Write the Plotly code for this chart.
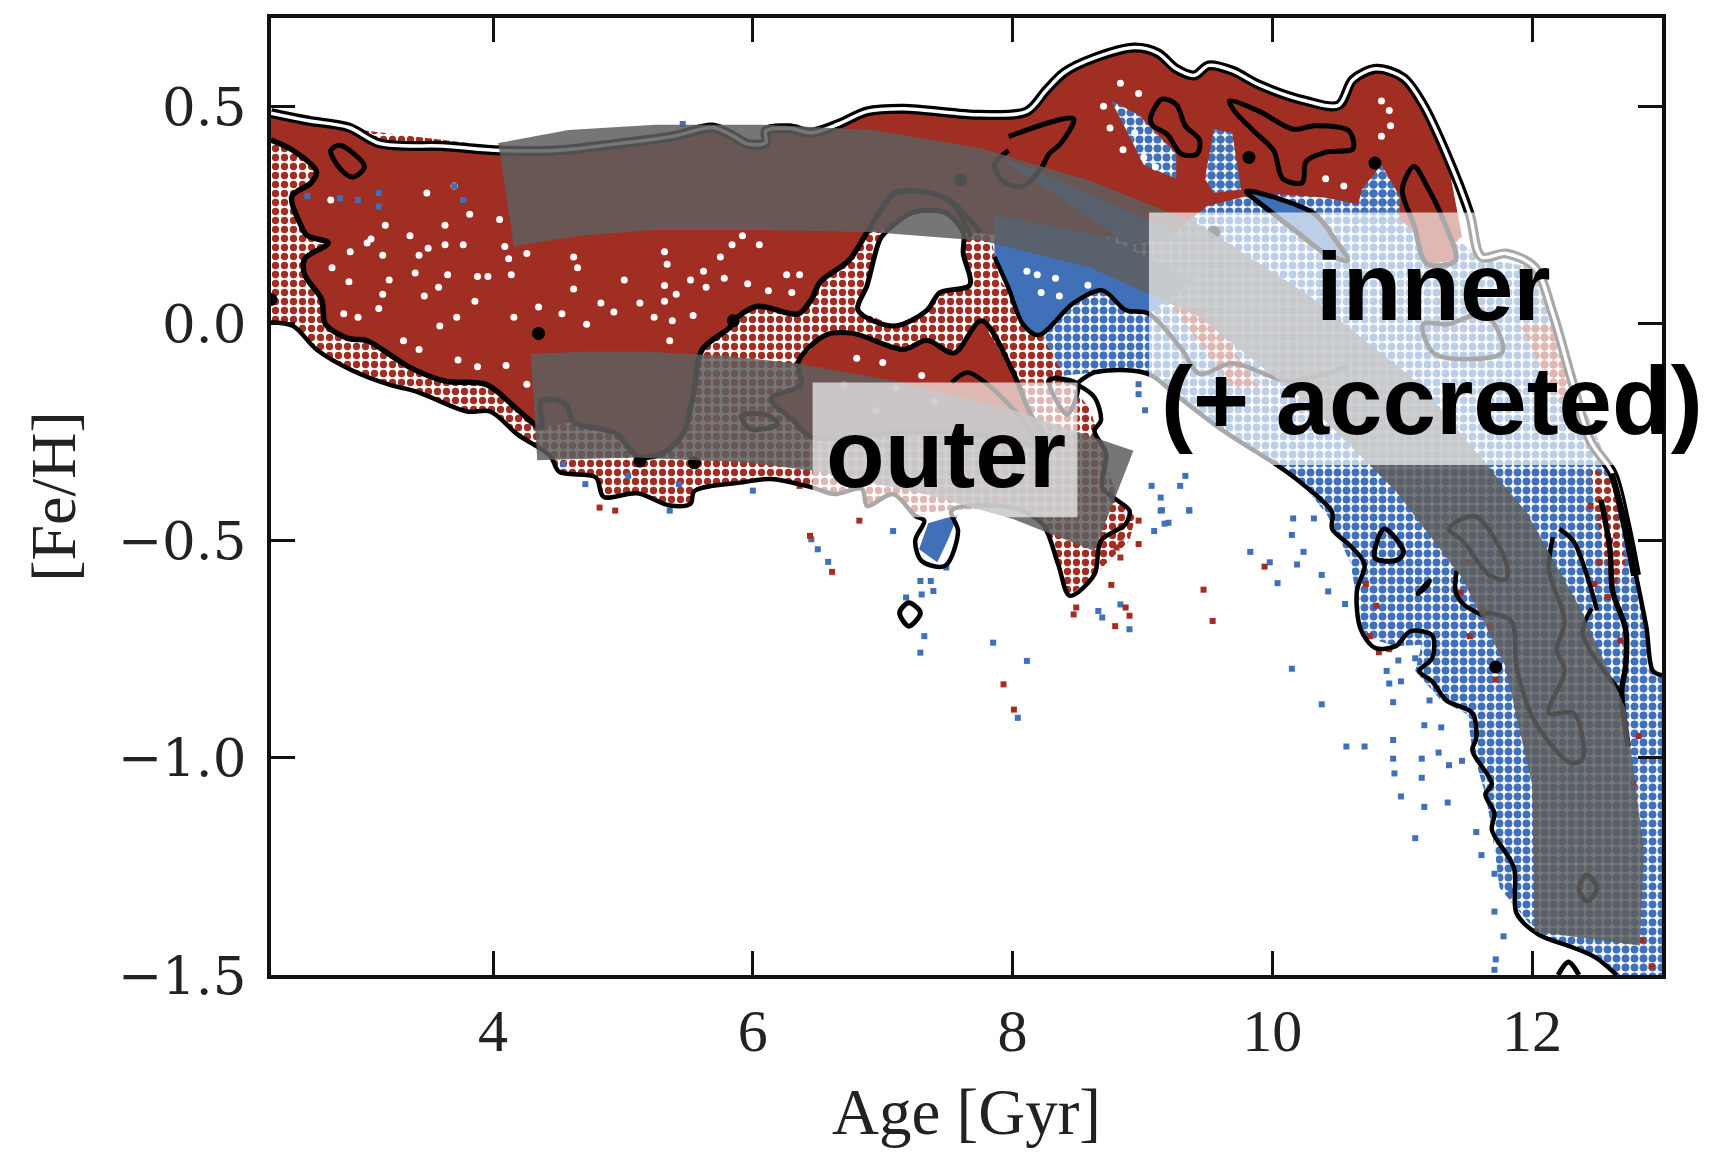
import plotly.graph_objects as go

# ---------- axes ----------
X_TICKS = [4, 6, 8, 10, 12]
Y_TICKS = [0.5, 0.0, -0.5, -1.0, -1.5]
X_RANGE = [2.29, 13.0]
Y_RANGE = [-1.5, 0.703]

# ---------- outer envelope contours ----------
TOP_AGE = [2.29, 2.57, 2.89, 3.13, 3.63, 4.05, 4.48, 4.86, 5.39, 5.69, 5.85, 5.96, 6.10, 6.10, 6.28, 6.45, 6.66, 6.88, 7.16, 7.75,
           8.11, 8.26, 8.40, 8.62, 8.94, 9.12, 9.26, 9.40, 9.51, 9.69, 9.90, 10.26, 10.51, 10.62, 10.80, 11.01, 11.16, 11.34,
           11.52, 11.61, 11.80, 12.02, 12.16, 12.30, 12.45, 12.62]
TOP_FEH = [0.484, 0.467, 0.451, 0.414, 0.408, 0.398, 0.398, 0.410, 0.431, 0.451, 0.431, 0.413, 0.416, 0.443, 0.449, 0.439, 0.459, 0.488, 0.494, 0.480,
           0.488, 0.537, 0.578, 0.610, 0.635, 0.622, 0.586, 0.571, 0.594, 0.582, 0.549, 0.512, 0.502, 0.561, 0.586, 0.565, 0.504, 0.390,
           0.251, 0.153, 0.161, 0.129, 0.022, -0.124, -0.271, -0.345]
RIGHT_AGE = [12.62, 12.72, 12.80, 12.88, 12.93, 13.0]
RIGHT_FEH = [-0.345, -0.46, -0.58, -0.70, -0.80, -0.81]

LOW_L_AGE = [2.29, 2.46, 2.64, 2.92, 3.20, 3.42, 3.80, 3.98, 4.19, 4.44, 4.51, 4.79, 4.85, 5.11, 5.36, 5.52, 5.55, 5.92, 6.14,
             6.46, 6.63, 6.84, 6.88, 7.08, 7.25, 7.32, 7.25, 7.30, 7.48, 7.58, 7.53, 8.00, 8.23, 8.35, 8.44, 8.63, 8.68, 8.87, 8.90, 8.81, 8.69, 8.72, 8.63, 8.68, 8.63, 8.49, 8.32]
LOW_L_FEH = [0.002, -0.006, -0.06, -0.109, -0.141, -0.158, -0.203, -0.203, -0.256, -0.305, -0.342, -0.354, -0.399, -0.391, -0.419, -0.415, -0.386, -0.366, -0.358,
             -0.378, -0.393, -0.381, -0.42, -0.393, -0.443, -0.454, -0.50, -0.547, -0.558, -0.478, -0.431, -0.424, -0.462, -0.554, -0.627, -0.578, -0.50, -0.462, -0.431, -0.408, -0.378, -0.30, -0.247, -0.224, -0.17, -0.14, -0.124]
LOW_R_AGE = [8.49, 8.63, 8.93, 9.07, 9.26, 9.62, 10.05, 10.23, 10.46, 10.46, 10.60, 10.71, 10.65, 10.68, 10.79, 10.95, 11.06, 11.23, 11.23, 11.13, 11.23, 11.34,
             11.54, 11.57, 11.54, 11.69, 11.64, 11.71, 11.69, 11.86, 11.88, 12.05, 12.30, 12.49, 12.65]
LOW_R_FEH = [-0.14, -0.113, -0.109, -0.12, -0.165, -0.247, -0.329, -0.369, -0.435, -0.473, -0.512, -0.555, -0.617, -0.704, -0.747, -0.743, -0.709, -0.718, -0.771, -0.80, -0.824, -0.868,
             -0.897, -0.954, -0.983, -1.06, -1.084, -1.128, -1.166, -1.253, -1.358, -1.407, -1.435, -1.46, -1.5]

# ---------- stipple regions ----------
RED_STIP_AGE = [2.29, 2.46, 2.64, 2.92, 3.20, 3.42, 3.80, 3.98, 4.19, 4.44, 4.51, 4.79, 4.85, 5.11, 5.36, 5.52, 5.55, 5.92, 6.14, 6.46, 6.63, 6.84, 6.88, 7.08, 7.25, 7.50, 8.00, 8.23, 8.35, 8.44, 8.63, 8.68, 8.87, 8.90, 8.81, 8.70, 8.60, 8.40, 8.20, 7.90, 7.80, 7.00, 2.29]
RED_STIP_FEH = [0.002, -0.006, -0.06, -0.109, -0.141, -0.158, -0.203, -0.203, -0.256, -0.305, -0.342, -0.354, -0.399, -0.391, -0.419, -0.415, -0.386, -0.366, -0.358, -0.378, -0.393, -0.381, -0.42, -0.393, -0.443, -0.43, -0.424, -0.462, -0.554, -0.627, -0.578, -0.50, -0.462, -0.431, -0.408, -0.30, -0.20, -0.12, -0.01, 0.10, 0.25, 0.30, 0.47]
BLUE_STIP_AGE = [7.90, 9.50, 10.40, 11.00, 11.60, 12.02, 12.30, 12.62, 12.80, 12.93, 13.0, 13.0, 12.65, 12.49, 12.30, 12.05, 11.75, 11.69, 11.64, 11.54, 11.50, 11.30, 11.10, 11.15, 10.95, 10.70, 10.60, 10.42, 10.23, 9.62, 9.26, 9.07, 8.93, 8.63, 8.40, 8.20]
BLUE_STIP_FEH = [0.20, 0.30, 0.32, 0.30, 0.15, 0.129, -0.124, -0.345, -0.58, -0.80, -0.81, -1.5, -1.5, -1.46, -1.435, -1.407, -1.30, -1.166, -1.084, -0.983, -0.90, -0.868, -0.80, -0.74, -0.743, -0.72, -0.55, -0.44, -0.369, -0.247, -0.165, -0.12, -0.109, -0.113, -0.12, -0.01]
PENINSULA_AGE = [7.28, 7.35, 7.58, 7.50, 7.42]
PENINSULA_FEH = [-0.52, -0.46, -0.44, -0.50, -0.55]
RED_PEN_AGE = [8.25, 8.70, 8.95, 8.90, 8.63, 8.44, 8.35]
RED_PEN_FEH = [-0.45, -0.42, -0.44, -0.50, -0.58, -0.627, -0.554]
RED_STREAK_AGE = [12.45, 12.62, 12.72, 12.62, 12.50]
RED_STREAK_FEH = [-0.33, -0.36, -0.55, -0.62, -0.45]

# ---------- solid areas ----------
RED_MAIN_AGE = [2.29, 2.29] + TOP_AGE[1:38] + [11.46, 11.30, 10.90, 10.40, 9.90, 9.50, 9.20, 8.70, 8.00, 7.62, 7.05, 6.88, 6.74, 6.52, 6.45, 6.35, 6.03, 5.85, 5.82, 5.61, 5.54, 5.46, 5.29, 5.11, 4.94, 4.62, 4.37, 4.19, 3.95, 3.63, 3.35, 3.03, 2.89, 2.71, 2.68, 2.55, 2.55, 2.73, 2.57, 2.52, 2.45, 2.60, 2.64, 2.46]
RED_MAIN_FEH = [0.422, 0.484] + TOP_FEH[1:38] + [0.20, 0.16, 0.26, 0.29, 0.30, 0.27, 0.20, 0.20, 0.20, 0.21, 0.22, 0.21, 0.145, 0.096, 0.055, 0.022, 0.039, 0.006, -0.01, -0.06, -0.166, -0.256, -0.301, -0.305, -0.252, -0.227, -0.24, -0.199, -0.141, -0.133, -0.10, -0.04, -0.035, -0.002, 0.055, 0.112, 0.149, 0.185, 0.202, 0.226, 0.292, 0.324, 0.349, 0.398]
ISLAND_AGE = [6.35, 6.56, 6.77, 7.16, 7.34, 7.55, 7.76, 8.00, 8.14, 8.30, 8.00, 7.49, 7.15, 6.45, 6.31, 6.14, 6.37, 6.35]
ISLAND_FEH = [-0.088, -0.027, -0.023, -0.06, -0.039, -0.068, 0.006, -0.11, -0.21, -0.29, -0.27, -0.25, -0.25, -0.262, -0.223, -0.174, -0.141, -0.088]
BLUE_MAIN_AGE = [7.86, 8.70, 9.40, 9.05, 8.87, 8.69, 8.47, 8.20, 8.08, 7.97, 7.86]
BLUE_MAIN_FEH = [0.25, 0.20, 0.10, 0.022, 0.031, 0.076, 0.047, -0.027, -0.002, 0.08, 0.153]
BLUE_BLADE_AGE = [9.80, 10.08, 10.33, 10.48, 10.58, 10.41, 10.19, 9.98, 9.80]
BLUE_BLADE_FEH = [0.304, 0.284, 0.251, 0.194, 0.145, 0.161, 0.21, 0.259, 0.304]
STREAK_A_AGE = [8.76, 8.97, 9.26, 9.26, 9.01, 8.90]
STREAK_A_FEH = [0.512, 0.48, 0.39, 0.333, 0.365, 0.43]
STREAK_B_AGE = [9.55, 9.69, 9.76, 9.55, 9.48]
STREAK_B_FEH = [0.447, 0.439, 0.308, 0.30, 0.333]
STREAK_C_AGE = [10.69, 10.84, 10.98, 10.98, 10.62]
STREAK_C_FEH = [0.308, 0.365, 0.292, 0.194, 0.227]
STREAK_D_AGE = [7.90, 8.30, 8.90, 9.30, 8.80, 8.20]
STREAK_D_FEH = [0.38, 0.30, 0.18, 0.20, 0.27, 0.35]
PINK_A_AGE = [11.90, 12.20, 12.35, 12.20]
PINK_A_FEH = [0.0, 0.0, -0.18, -0.18]
PINK_B_AGE = [9.20, 9.50, 9.90, 9.70]
PINK_B_FEH = [0.05, 0.03, -0.15, -0.15]
SLIVER_AGE = [11.0, 11.09, 11.19, 11.32, 11.41, 11.19, 11.09, 11.0]
SLIVER_FEH = [0.308, 0.361, 0.316, 0.235, 0.145, 0.137, 0.227, 0.308]
HOLE_AGE = [7.05, 7.23, 7.48, 7.62, 7.62, 7.67, 7.44, 7.34, 7.09, 6.81, 6.88, 6.98, 7.05]
HOLE_FEH = [0.218, 0.255, 0.255, 0.21, 0.161, 0.088, 0.071, 0.03, -0.006, 0.03, 0.088, 0.194, 0.218]

# ---------- inner contours ----------
INNER_L_AGE = [2.29, 2.46, 2.64, 2.60, 2.45, 2.52, 2.57, 2.73, 2.55, 2.55, 2.68, 2.71, 2.89, 3.03, 3.35, 3.63, 3.95, 4.19, 4.37, 4.37, 4.56, 4.62, 4.94, 5.11, 5.29, 5.46, 5.54, 5.61, 5.82, 5.85, 6.03, 6.35, 6.45, 6.52, 6.74, 6.88, 6.98, 7.09, 7.27, 7.51, 7.75]
INNER_L_FEH = [0.422, 0.398, 0.349, 0.324, 0.292, 0.226, 0.202, 0.185, 0.149, 0.112, 0.055, -0.002, -0.035, -0.04, -0.10, -0.133, -0.141, -0.199, -0.24, -0.178, -0.186, -0.227, -0.252, -0.305, -0.301, -0.256, -0.166, -0.06, -0.01, 0.006, 0.039, 0.022, 0.055, 0.096, 0.145, 0.21, 0.259, 0.30, 0.304, 0.284, 0.21]
INNER_R_AGE = [7.86, 7.97, 8.08, 8.20, 8.47, 8.69, 8.87, 9.05, 9.30, 9.44, 9.69, 10.12, 10.41, 10.58]
INNER_R_FEH = [0.153, 0.08, -0.002, -0.027, 0.047, 0.076, 0.031, 0.022, -0.059, -0.116, -0.092, -0.133, -0.116, -0.10]
INNER_E_AGE = [12.53, 12.60, 12.62, 12.72, 12.72, 12.69, 12.74]
INNER_E_FEH = [-0.406, -0.521, -0.617, -0.704, -0.79, -0.844, -0.974]
ARC_AGE = [11.42, 11.41, 11.47, 11.64]
ARC_FEH = [-0.569, -0.617, -0.646, -0.675]
ARC2_AGE = [12.21, 12.32, 12.41, 12.50]
ARC2_FEH = [-0.473, -0.502, -0.569, -0.66]
WIND_A_AGE = [12.16, 12.13, 12.25, 12.19, 12.25, 12.13, 12.32, 12.39, 12.30, 12.02, 11.88, 11.84, 11.64]
WIND_A_FEH = [-0.492, -0.569, -0.685, -0.752, -0.80, -0.897, -0.897, -1.002, -1.012, -0.916, -0.791, -0.685, -0.666]
WIND_B_AGE = [11.36, 11.56, 11.80, 11.80, 11.67, 11.47, 11.36]
WIND_B_FEH = [-0.473, -0.444, -0.55, -0.589, -0.579, -0.502, -0.473]
WIND_C_AGE = [12.46, 12.39, 12.68]
WIND_C_FEH = [-0.656, -0.714, -0.848]
WIND_D_AGE = [11.16, 11.25, 11.77, 11.64, 11.35, 11.16]
WIND_D_FEH = [-0.002, -0.07, -0.067, 0.022, -0.002, -0.002]
LOOP_ISLAND_AGE = [7.53, 7.65, 7.79, 8.08, 8.18]
LOOP_ISLAND_FEH = [-0.136, -0.113, -0.136, -0.224, -0.278]
LOOP_B_AGE = [8.28, 8.50, 8.42, 8.28]
LOOP_B_FEH = [-0.13, -0.14, -0.21, -0.13]
ARCH_AGE = [6.88, 6.98, 7.09, 7.27, 7.51, 7.68]
ARCH_FEH = [0.21, 0.26, 0.30, 0.304, 0.284, 0.20]
RINGS = {
    "oval": ([2.75, 2.82, 3.01, 2.92, 2.82, 2.75], [0.398, 0.41, 0.361, 0.337, 0.357, 0.398]),
    "blob1": ([9.06, 9.15, 9.26, 9.33, 9.44, 9.42, 9.30, 9.19, 9.08, 9.06], [0.471, 0.516, 0.504, 0.455, 0.422, 0.39, 0.39, 0.435, 0.455, 0.471]),
    "blob2": ([9.67, 9.90, 10.16, 10.33, 10.59, 10.62, 10.41, 10.26, 10.23, 10.08, 10.01, 9.87, 9.71, 9.67], [0.512, 0.488, 0.447, 0.455, 0.443, 0.402, 0.394, 0.373, 0.324, 0.333, 0.398, 0.439, 0.488, 0.512]),
    "wing": ([7.97, 8.47, 8.37, 8.28, 8.22, 8.08, 7.94, 7.86, 7.97], [0.43, 0.471, 0.414, 0.39, 0.357, 0.316, 0.324, 0.365, 0.398]),
    "sliver": (SLIVER_AGE, SLIVER_FEH),
    "blade": (BLUE_BLADE_AGE, BLUE_BLADE_FEH),
    "ring_low": ([7.13, 7.20, 7.29, 7.20, 7.13], [-0.666, -0.643, -0.666, -0.697, -0.666]),
    "triangle": ([10.86, 11.01, 10.96, 10.79, 10.86], [-0.473, -0.526, -0.545, -0.54, -0.473]),
    "tiny": ([11.12, 11.21, 11.18, 11.12], [-0.622, -0.593, -0.607, -0.622]),
    "band_loop": ([5.91, 6.12, 6.19, 5.98, 5.91], [-0.212, -0.212, -0.232, -0.243, -0.212]),
    "band_ring": ([12.42, 12.50, 12.42, 12.36, 12.42], [-1.27, -1.30, -1.33, -1.30, -1.27]),
    "ring_bottom": ([12.20, 12.28, 12.36], [-1.5, -1.47, -1.5]),
    "hole": (HOLE_AGE, HOLE_FEH),
}
BLOTS_AGE = [4.35, 2.29, 5.55, 5.13, 5.85, 9.82, 10.79, 11.72, 9.55, 7.60]
BLOTS_FEH = [-0.023, 0.055, -0.321, -0.317, 0.006, 0.382, 0.369, -0.791, 0.21, 0.33]

# ---------- individual points ----------
WHITE_AGE = [3.70, 3.49, 2.75, 3.17, 3.06, 3.03, 3.36, 3.63, 3.82, 4.05, 3.77, 3.63, 3.50, 3.43, 3.15, 2.90, 2.76, 4.09, 4.12, 4.26, 4.62, 4.65, 5.32, 5.34, 5.75, 5.84, 6.05, 5.92, 5.62, 5.78, 5.01, 4.62, 5.52, 5.64, 5.32, 5.41, 5.96, 6.12, 6.30, 6.26, 6.36, 3.40, 3.20, 3.58, 3.65, 3.88, 3.96, 4.14, 3.86, 3.47, 2.89, 3.15, 2.85, 3.12, 2.96, 3.59, 3.72, 4.35, 4.53, 4.16, 4.72, 4.83, 5.13, 5.32, 4.93, 5.24, 5.38, 5.54, 5.36, 3.43, 3.31, 3.73, 4.10, 3.88, 4.26,
             8.83, 8.97, 8.94, 9.01, 10.84, 10.91, 10.84, 10.55, 10.41, 8.11, 8.19, 8.33, 8.22, 8.58, 8.36, 8.70, 8.75, 10.90, 8.85, 9.10, 7.00, 7.10, 7.30, 7.40, 6.80, 6.70, 6.95]
WHITE_FEH = [0.316, 0.30, 0.284, 0.226, 0.194, 0.185, 0.202, 0.226, 0.251, 0.239, 0.181, 0.181, 0.173, 0.157, 0.157, 0.165, 0.128, 0.177, 0.149, 0.161, 0.153, 0.128, 0.165, 0.136, 0.153, 0.181, 0.181, 0.202, 0.12, 0.104, 0.10, 0.079, 0.10, 0.083, 0.087, 0.067, 0.091, 0.075, 0.071, 0.112, 0.112, 0.116, 0.10, 0.083, 0.112, 0.108, 0.108, 0.112, 0.051, 0.063, 0.096, 0.067, 0.022, 0.034, 0.014, -0.006, 0.014, 0.038, 0.022, 0.014, -0.002, 0.047, 0.047, 0.051, 0.026, 0.014, 0.006, 0.018, -0.04, -0.06, -0.04, -0.084, -0.097, -0.10, -0.14,
             0.553, 0.529, 0.439, 0.382, 0.512, 0.455, 0.431, 0.316, 0.333, 0.12, 0.112, 0.104, 0.071, 0.088, 0.063, 0.50, 0.45, 0.49, 0.40, 0.36, -0.09, -0.15, -0.12, -0.18, -0.08, -0.14, -0.20]
BLUE_AGE = [2.57, 2.82, 2.96, 3.12, 3.12, 3.70, 3.77, 5.46, 9.36, 9.15, 9.20, 9.83, 10.04, 9.98, 10.19, 10.24, 10.38, 10.43, 10.56, 10.15, 10.16, 10.32, 10.15, 10.38, 10.57, 10.71, 10.93, 10.93, 10.94, 11.15, 11.15, 10.99, 11.17, 11.35, 11.10, 11.36, 11.46, 11.28, 10.93, 11.17, 11.30, 10.90, 10.99, 10.97, 11.10, 10.88, 11.21, 11.71, 11.61, 11.57, 11.71, 11.84, 11.78, 11.72, 11.71,
            6.50, 6.58, 6.45, 7.29, 7.37, 7.39, 7.30, 7.18, 7.32, 7.29, 7.85, 8.11, 8.04, 8.66, 8.69, 8.83, 8.90, 9.07, 9.29, 9.33, 9.14, 9.14, 9.36, 9.17, 9.09, 8.97, 8.97, 9.02, 7.49, 7.08, 4.54, 4.71, 5.04, 5.36, 6.00, 5.43]
BLUE_FEH = [0.293, 0.288, 0.284, 0.30, 0.269, 0.316, 0.284, 0.459, -0.43, -0.43, -0.459, -0.526, -0.598, -0.55, -0.555, -0.526, -0.579, -0.617, -0.646, -0.487, -0.449, -0.449, -0.795, -0.877, -0.974, -0.974, -0.959, -1.002, -1.036, -1.002, -1.046, -1.089, -1.113, -1.103, -1.185, -1.017, -1.007, -0.988, -0.872, -0.925, -0.93, -0.829, -0.824, -0.776, -0.771, -0.80, -0.868, -1.354, -1.224, -1.171, -1.267, -1.306, -1.411, -1.464, -1.488,
            -0.52, -0.549, -0.497, -0.593, -0.593, -0.616, -0.624, -0.631, -0.72, -0.758, -0.735, -0.777, -0.908, -0.662, -0.677, -0.647, -0.704, -0.374, -0.374, -0.351, -0.401, -0.431, -0.431, -0.461, -0.478, -0.163, -0.14, -0.20, -0.562, -0.478, -0.324, -0.37, -0.351, -0.431, -0.385, -0.37]
RED_AGE = [9.47, 9.54, 9.94, 10.82, 6.61, 6.44, 7.93, 8.01, 8.49, 8.47, 8.87, 8.90, 8.79, 8.76, 8.97, 8.83, 8.80, 8.97, 8.83, 4.82, 4.94, 6.36, 6.82,
           11.50, 11.45, 11.62, 11.68, 11.72, 11.52, 12.56, 12.60, 12.52, 12.48, 12.58, 12.68, 12.82, 12.78, 12.70, 12.45, 10.72, 10.80, 10.75, 10.90, 12.85, 12.92]
RED_FEH = [-0.613, -0.685, -0.56, -0.757, -0.572, -0.489, -0.831, -0.889, -0.654, -0.67, -0.654, -0.673, -0.697, -0.602, -0.454, -0.493, -0.516, -0.508, -0.539, -0.424, -0.431, -0.374, -0.454,
           -0.55, -0.62, -0.66, -0.70, -0.82, -0.72, -0.44, -0.50, -0.55, -0.60, -0.63, -0.73, -0.95, -1.06, -0.90, -0.42, -0.60, -0.65, -0.72, -0.75, -1.42, -1.48]

# ---------- overlay bands ----------
BAND_IN_AGE = [4.04, 4.58, 5.25, 6.09, 6.93, 7.77, 8.61, 9.44, 10.28, 11.12, 11.96, 12.38, 12.72, 12.86, 12.83, 12.02, 12.0, 11.79, 11.46, 10.95, 10.28, 9.44, 8.61, 7.77, 6.93, 6.09, 5.25, 4.66, 4.16, 4.04]
BAND_IN_FEH = [0.415, 0.445, 0.457, 0.457, 0.445, 0.402, 0.327, 0.227, 0.064, -0.136, -0.436, -0.661, -0.887, -1.212, -1.432, -1.40, -1.062, -0.787, -0.586, -0.386, -0.186, 0.014, 0.127, 0.19, 0.21, 0.215, 0.215, 0.202, 0.177, 0.415]
BAND_OUT_AGE = [4.29, 4.70, 5.20, 5.80, 6.36, 7.15, 8.01, 8.93, 8.63, 8.01, 7.32, 6.46, 5.95, 5.09, 4.34, 4.29]
BAND_OUT_FEH = [-0.07, -0.065, -0.065, -0.075, -0.093, -0.136, -0.20, -0.293, -0.524, -0.451, -0.393, -0.339, -0.32, -0.309, -0.315, -0.07]
BOX_IN_AGE = [9.05, 13.0, 13.0, 9.05, 9.05]
BOX_IN_FEH = [0.255, 0.255, -0.326, -0.326, 0.255]
BOX_OUT_AGE = [6.46, 8.50, 8.50, 6.46, 6.46]
BOX_OUT_FEH = [-0.136, -0.136, -0.446, -0.446, -0.136]

LABELS = ["inner", "(+ accreted)", "outer"]
LABEL_AGE = [11.24, 11.23, 7.49]
LABEL_FEH = [0.085, -0.178, -0.30]

RED = "#a12e22"
BLUE = "#3f70b8"
fig = go.Figure()


def area(a, f, color, pattern=None):
    fig.add_trace(go.Scatter(x=a, y=f, mode="lines", line=dict(width=0), fill="toself",
                             fillcolor=color, fillpattern=pattern, hoverinfo="skip", showlegend=False))


def curve(a, f, width=4.5, color="black"):
    fig.add_trace(go.Scatter(x=a, y=f, mode="lines", line=dict(width=width, color=color, shape="spline", smoothing=0.9),
                             hoverinfo="skip", showlegend=False))


def dots(a, f, color, size=6, symbol="square"):
    fig.add_trace(go.Scatter(x=a, y=f, mode="markers", marker=dict(color=color, size=size, symbol=symbol, line=dict(width=0)),
                             hoverinfo="skip", showlegend=False))


def stip(fg, bg="white", solidity=0.52, size=9):
    return dict(shape=".", fgcolor=fg, bgcolor=bg, fgopacity=1, fillmode="replace", size=size, solidity=solidity)


# stippled backgrounds
area(RED_STIP_AGE, RED_STIP_FEH, "white", stip(RED))
area(BLUE_STIP_AGE, BLUE_STIP_FEH, "white", stip(BLUE, solidity=0.6))
area(RED_STREAK_AGE, RED_STREAK_FEH, "white", stip(RED, "white", 0.5))
area(RED_PEN_AGE, RED_PEN_FEH, "white", stip(RED))
area(PENINSULA_AGE, PENINSULA_FEH, BLUE)
# solid red then blue
area(RED_MAIN_AGE, RED_MAIN_FEH, RED)
area(ISLAND_AGE, ISLAND_FEH, RED)
area(SLIVER_AGE, SLIVER_FEH, RED)
area(PINK_A_AGE, PINK_A_FEH, "white", stip(RED, solidity=0.7))
area(PINK_B_AGE, PINK_B_FEH, "white", stip(RED, solidity=0.7))
area(BLUE_MAIN_AGE, BLUE_MAIN_FEH, BLUE)
area(BLUE_BLADE_AGE, BLUE_BLADE_FEH, BLUE)
area(STREAK_A_AGE, STREAK_A_FEH, BLUE, stip(BLUE, "white", 0.62))
area(STREAK_B_AGE, STREAK_B_FEH, BLUE, stip(BLUE, "white", 0.72))
area(STREAK_C_AGE, STREAK_C_FEH, BLUE, stip(BLUE, "white", 0.72))
area(STREAK_D_AGE, STREAK_D_FEH, BLUE)
area(HOLE_AGE, HOLE_FEH, "white")
# individual points
dots(WHITE_AGE, WHITE_FEH, "white", 7, "circle")
dots(BLUE_AGE, BLUE_FEH, BLUE, 6)
dots(RED_AGE, RED_FEH, RED, 6)
# contours
curve(TOP_AGE + RIGHT_AGE[1:3], TOP_FEH + RIGHT_FEH[1:3], 10)
curve(TOP_AGE + RIGHT_AGE[1:3], TOP_FEH + RIGHT_FEH[1:3], 3.5, "white")
curve(RIGHT_AGE, RIGHT_FEH)
curve(LOW_L_AGE, LOW_L_FEH)
curve(LOW_R_AGE, LOW_R_FEH)
curve(INNER_L_AGE, INNER_L_FEH, 5.5)
curve(INNER_R_AGE, INNER_R_FEH, 4.5)
curve(ISLAND_AGE, ISLAND_FEH, 5)
curve(INNER_E_AGE, INNER_E_FEH, 5.5)
curve(ARC_AGE, ARC_FEH)
curve(ARC2_AGE, ARC2_FEH)
curve(ARCH_AGE, ARCH_FEH)
for wa, wf in [(WIND_A_AGE, WIND_A_FEH), (WIND_B_AGE, WIND_B_FEH), (WIND_C_AGE, WIND_C_FEH), (WIND_D_AGE, WIND_D_FEH),
               (LOOP_ISLAND_AGE, LOOP_ISLAND_FEH), (LOOP_B_AGE, LOOP_B_FEH)]:
    curve(wa, wf)
for ra, rf in RINGS.values():
    curve(ra, rf, 5)
dots(BLOTS_AGE, BLOTS_FEH, "black", 13, "circle")
# translucent overlays
area(BAND_IN_AGE, BAND_IN_FEH, "rgba(94,94,94,0.85)")
area(BAND_OUT_AGE, BAND_OUT_FEH, "rgba(94,94,94,0.85)")
area(BOX_IN_AGE, BOX_IN_FEH, "rgba(255,255,255,0.66)")
area(BOX_OUT_AGE, BOX_OUT_FEH, "rgba(255,255,255,0.66)")

annotations = [dict(x=a, y=f, text=t, xref="x", yref="y", showarrow=False, xanchor="center", yanchor="middle",
                    font=dict(family="Liberation Sans", size=96, color="black", weight="bold"))
               for t, a, f in zip(LABELS, LABEL_AGE, LABEL_FEH)]

axis_common = dict(ticks="inside", ticklen=24, tickwidth=3, tickcolor="#111", linewidth=4, linecolor="#111",
                   mirror="allticks", showgrid=False, zeroline=False)
fig.update_layout(
    width=1711, height=1158, margin=dict(l=271, r=49, t=18, b=183), paper_bgcolor="white", plot_bgcolor="white",
    showlegend=False, annotations=annotations,
    xaxis=dict(range=X_RANGE, tickvals=X_TICKS, ticktext=[str(v) for v in X_TICKS],
               tickfont=dict(family="Liberation Serif", size=60, color="#222"),
               title=dict(text="Age [Gyr]", standoff=26, font=dict(family="Liberation Serif", size=65, color="#222")), **axis_common),
    yaxis=dict(range=Y_RANGE, tickvals=Y_TICKS, tickformat=".1f", ticklabelstandoff=10,
               tickfont=dict(family="DejaVu Serif", size=53, color="#222"),
               title=dict(text="[Fe/H]", standoff=22, font=dict(family="Liberation Serif", size=64, color="#222")), **axis_common),
)
fig.write_html("out.html", config={"displayModeBar": False},
               post_script="document.body.style.margin='0';document.body.style.overflow='hidden';")
